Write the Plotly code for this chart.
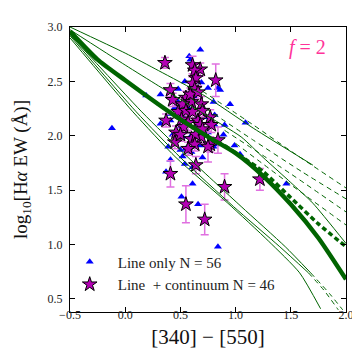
import plotly.graph_objects as go

# ---------------- data ----------------
# Line only (blue triangles)
tri_x = [0.68, 0.58, 0.54, 0.32, 0.19, -0.12, 0.32, 0.41, 0.41, 0.50, 0.45, 0.50, 0.55, 0.60,
         0.52, 0.54, 0.41, 0.37, 0.61, 0.51, 0.66, 0.84, 1.46, 0.84, 0.95, 1.09, 0.81, 0.82,
         0.80, 1.04, 0.68, 0.86, 0.80, 0.81, 0.90, 0.59, 0.99, 0.59, 0.63, 0.70, 0.48, 0.75,
         0.66, 0.39, 0.53, 0.73, 0.61, 0.52, 0.43, 0.70, 0.89, 0.57, 0.75, 0.64, 0.48, 0.69]
tri_y = [2.79, 2.73, 2.50, 2.38, 2.37, 2.07, 2.11, 2.20, 2.14, 2.08, 2.26, 1.87, 1.88, 1.85,
         1.81, 1.74, 1.78, 1.67, 1.56, 1.44, 1.37, 0.98, 1.56, 2.44, 2.29, 2.12, 2.10, 1.92,
         1.90, 1.83, 1.91, 2.42, 2.31, 2.19, 2.10, 1.99, 1.91, 2.70, 2.35, 2.26, 2.31, 2.03,
         2.08, 1.90, 2.17, 2.17, 1.71, 1.99, 2.01, 1.80, 2.01, 2.26, 2.44, 2.15, 2.43, 2.49]

# Line + continuum (stars with error bars)
star_x = [0.36, 0.61, 0.68, 0.63, 0.64, 0.61, 0.63, 0.82, 0.41, 0.43, 0.55, 0.60, 0.52, 0.69,
          0.48, 0.55, 0.61, 0.37, 0.51, 0.57, 0.66, 0.77, 0.46, 0.68, 0.69, 0.78, 0.45, 0.60,
          0.77, 0.64, 0.75, 0.84, 0.64, 0.41, 0.90, 0.55, 0.72, 1.22, 0.63, 0.59, 0.66, 0.70,
          0.53, 0.50, 0.70, 0.57]
star_y = [2.67, 2.65, 2.61, 2.60, 2.53, 2.48, 2.43, 2.51, 2.42, 2.33, 2.35, 2.31, 2.29, 2.29,
          2.22, 2.23, 2.22, 2.14, 2.15, 2.12, 2.14, 2.17, 2.03, 2.10, 1.99, 2.10, 1.94, 1.97,
          1.92, 2.01, 1.90, 1.96, 1.73, 1.65, 1.53, 1.37, 1.23, 1.60, 1.92, 2.38, 2.40, 2.06,
          2.08, 2.01, 2.23, 1.88]
star_err = [0.05, 0.08, 0.06, 0.06, 0.07, 0.06, 0.06, 0.15, 0.06, 0.06, 0.06, 0.07, 0.06, 0.07,
            0.06, 0.06, 0.06, 0.06, 0.06, 0.07, 0.06, 0.07, 0.06, 0.07, 0.06, 0.07, 0.06, 0.06,
            0.07, 0.06, 0.14, 0.12, 0.08, 0.12, 0.12, 0.17, 0.14, 0.10, 0.06, 0.06, 0.06, 0.06,
            0.06, 0.06, 0.06, 0.06]

# model tracks
thick_x = [-0.5, -0.25, 0.0, 0.3, 0.5, 0.75, 1.0, 1.25, 1.5, 1.75, 2.0]
thick_y = [2.96, 2.70, 2.51, 2.29, 2.15, 1.99, 1.84, 1.63, 1.37, 1.06, 0.68]
thickd_x = [0.9, 1.25, 1.5, 1.75, 2.0]
thickd_y = [1.91, 1.67, 1.43, 1.19, 0.98]

ua_x = [-0.5, 0.0, 0.3, 0.7, 1.16, 1.7]
ua_y = [3.0, 2.76, 2.60, 2.38, 2.07, 1.73]
ua_dx = [0.7, 1.16, 1.5, 2.0]
ua_dy = [2.41, 2.10, 1.86, 1.52]
ub_x = [-0.5, 0.0, 0.3, 0.7, 1.05, 1.25, 1.5, 1.7, 2.0]
ub_y = [2.975, 2.65, 2.46, 2.21, 1.99, 1.80, 1.57, 1.38, 1.01]
uc_dx = [0.6, 1.16, 1.6, 2.0]
uc_dy = [2.34, 1.96, 1.67, 1.42]
ud_dx = [0.9, 1.5, 2.0]
ud_dy = [2.05, 1.65, 1.30]
ue_dx = [1.0, 1.5, 2.0]
ue_dy = [1.93, 1.55, 1.18]

l1_x = [-0.5, 0.07, 0.46, 0.93, 1.3, 1.58, 1.77]
l1_y = [2.90, 2.22, 1.80, 1.38, 1.03, 0.74, 0.41]
l2_x = [-0.5, 0.1, 0.5, 0.98, 1.4, 1.66]
l2_y = [2.92, 2.22, 1.80, 1.35, 0.98, 0.74]
l2_dx = [1.66, 1.8, 1.93]
l2_dy = [0.74, 0.58, 0.40]
l3_x = [-0.5, 0.15, 0.55, 1.05, 1.45, 1.68]
l3_y = [2.93, 2.22, 1.82, 1.35, 0.98, 0.74]
l3_dx = [1.68, 1.85, 1.97]
l3_dy = [0.74, 0.55, 0.40]

xticks = [-0.5, 0.0, 0.5, 1.0, 1.5, 2.0]
yticks = [0.5, 1.0, 1.5, 2.0, 2.5, 3.0]

GREEN = "#006400"
FONT = "Liberation Serif"

fig = go.Figure()

fig.add_trace(go.Scatter(x=tri_x, y=tri_y, mode="markers", name="Line only N = 56",
                         marker=dict(symbol="triangle-up", size=7, color="#0000ff",
                                     line=dict(width=0))))
fig.add_trace(go.Scatter(x=star_x, y=star_y, mode="markers", name="Line  + continuum N = 46",
                         error_y=dict(type="data", array=star_err, color="#e070e0",
                                      thickness=1.5, width=4),
                         marker=dict(symbol="star", size=11, color="#b400b4",
                                     line=dict(width=1, color="black"))))


def add_line(x, y, width, dash="solid"):
    fig.add_trace(go.Scatter(x=x, y=y, mode="lines", showlegend=False, hoverinfo="skip",
                             line=dict(color=GREEN, width=width, dash=dash, shape="spline",
                                       smoothing=0.6)))


add_line(thick_x, thick_y, 4.5)
add_line(thickd_x, thickd_y, 3.5, "5px,3px")
add_line(ua_x, ua_y, 1)
add_line(ua_dx, ua_dy, 1, "5px,4px")
add_line(ub_x, ub_y, 1)
add_line(uc_dx, uc_dy, 1, "5px,4px")
add_line(ud_dx, ud_dy, 1, "5px,4px")
add_line(ue_dx, ue_dy, 1, "5px,4px")
add_line(l1_x, l1_y, 1)
add_line(l2_x, l2_y, 1)
add_line(l2_dx, l2_dy, 1, "5px,4px")
add_line(l3_x, l3_y, 1)
add_line(l3_dx, l3_dy, 1, "5px,4px")

axis_common = dict(showline=True, linecolor="black", linewidth=1.3, mirror="ticks",
                   ticks="inside", ticklen=5, tickwidth=1, tickcolor="black",
                   showgrid=False, zeroline=False,
                   tickfont=dict(family=FONT, size=12, color="#222"))

fig.update_xaxes(range=[-0.5, 2.0], tickvals=xticks,
                 ticktext=[("\u2212" if v < 0 else "") + f"{abs(v):.1f}" for v in xticks],
                 ticklabelstandoff=-9,
                 title=dict(text="[340] \u2212 [550]", font=dict(family=FONT, size=21, color="#111"),
                            standoff=8),
                 **axis_common)
fig.update_yaxes(range=[0.38, 3.0], tickvals=yticks,
                 ticktext=[f"{v:.1f}" for v in yticks],
                 ticklabelstandoff=4,
                 title=dict(text="log<sub>10</sub>[H<i>\u03b1</i> EW (\u00c5)]",
                            font=dict(family=FONT, size=19, color="#111"), standoff=14),
                 **axis_common)

fig.add_annotation(x=0.935, y=0.975, xref="paper", yref="paper", xanchor="right", yanchor="top",
                   text="<i>f</i> = 2", showarrow=False,
                   font=dict(family=FONT, size=20, color="#ff3399"))

fig.update_layout(
    width=360, height=360,
    margin=dict(l=62, r=22, t=19, b=56),
    plot_bgcolor="white", paper_bgcolor="white",
    legend=dict(x=-0.03, y=0.04, xanchor="left", yanchor="bottom",
                bgcolor="rgba(0,0,0,0)", borderwidth=0, itemwidth=46,
                font=dict(family=FONT, size=15, color="#222")),
)

fig.write_html("out.html")
